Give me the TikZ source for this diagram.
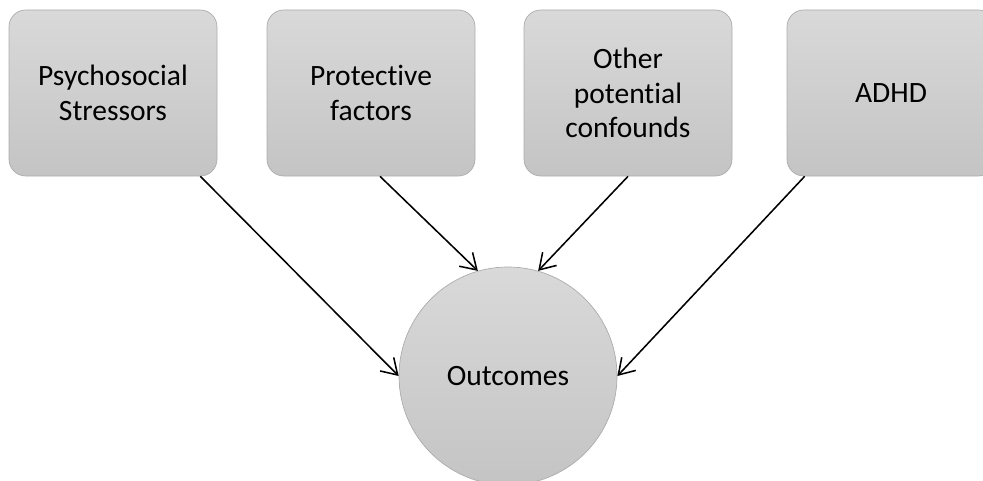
\documentclass[tikz,border=0pt]{standalone}
\usepackage{fontspec}
\setmainfont{Carlito}[Ligatures=NoCommon]
\usetikzlibrary{arrows.meta}
\definecolor{boxtop}{HTML}{D9D9D9}
\definecolor{boxbot}{HTML}{C4C4C4}
\definecolor{boxln}{HTML}{ACACAC}
\tikzset{
  factor/.style={draw=boxln, line width=0.5pt, rounded corners=4.2mm,
    top color=boxtop, bottom color=boxbot, minimum width=5.2cm,
    minimum height=4.15cm, align=center, font=\fontsize{21}{24.5}\selectfont},
  result/.style={circle, draw=boxln, line width=0.5pt, top color=boxtop,
    bottom color=boxbot, minimum size=5.45cm, inner sep=0pt,
    font=\fontsize{21}{24.5}\selectfont},
  effect/.style={-{Straight Barb[length=3.8mm, width=4.8mm]}, line width=1.1pt},
}

\begin{document}
\begin{tikzpicture}[x=1cm,y=1cm]
\useasboundingbox (0,0) rectangle (24.575,12);

% ===================== influencing factors (top row) ========================
\node[factor] (stress)   at (2.825,9.675)  {Psychosocial\\Stressors};
\node[factor] (protect)  at (9.275,9.675)  {Protective\\factors};
\node[factor] (confound) at (15.7,9.675)   {Other\\potential\\confounds};
\node[factor] (adhd)     at (22.275,9.675) {ADHD};

% ===================== outcome ==============================================
\node[result] (outcome) at (12.7,2.6) {Outcomes};

% arrows into the outcome
\draw[effect] ([xshift=-4.25mm]stress.south east) -- (outcome.west);
\draw[effect] ([xshift=2.25mm]protect.south) -- (outcome.106);
\draw[effect] (confound.south) -- (outcome.74);
\draw[effect] ([xshift=4.5mm]adhd.south west) -- (outcome.east);

\end{tikzpicture}
\end{document}
